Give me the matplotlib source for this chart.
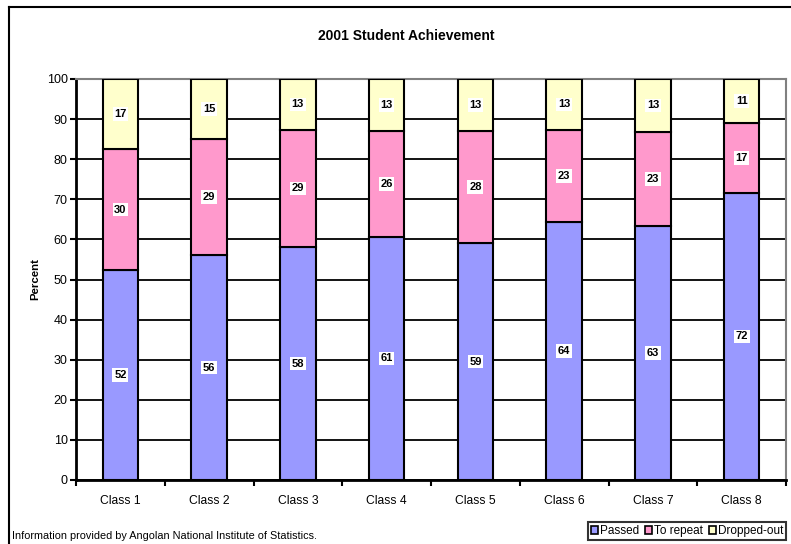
import matplotlib
matplotlib.use("Agg")
import matplotlib.pyplot as plt
from matplotlib.lines import Line2D
import numpy as np

plt.rcParams["font.family"] = ["Liberation Sans", "DejaVu Sans"]

#------------DATA--------------------------
classes = ["Class 1", "Class 2", "Class 3", "Class 4", "Class 5", "Class 6", "Class 7", "Class 8"]
passed = [52.3, 56.1, 58.1, 60.6, 59.1, 64.3, 63.4, 71.6]
to_repeat = [30.3, 28.9, 29.3, 26.4, 28.0, 23.1, 23.4, 17.4]
dropped_out = [17.4, 15.0, 12.6, 13.0, 12.9, 12.6, 13.2, 11.0]
series_names = ["Passed", "To repeat", "Dropped-out"]
colors = ["#9999FF", "#FF99CC", "#FFFFCC"]

#------------PLOT--------------------------
fig = plt.figure(figsize=(7.91, 5.44), dpi=100)
ax = fig.add_axes([76 / 791, 1 - 480 / 544, 710 / 791, 401 / 544])

x = np.arange(len(classes)) + 0.5
bottom = np.zeros(len(classes))
for vals, name, col in zip([passed, to_repeat, dropped_out], series_names, colors):
    vals = np.array(vals)
    ax.bar(x, vals, width=0.4, bottom=bottom, color=col, edgecolor="black",
           linewidth=1.5, label=name, zorder=3)
    for xi, b, v in zip(x, bottom, vals):
        ax.text(xi, b + v / 2, f"{v:.0f}", ha="center", va="center", fontsize=8,
                fontweight="bold", zorder=4,
                bbox=dict(facecolor="white", edgecolor="none", pad=1.2))
    bottom += vals

ax.set_xlim(0, 8)
ax.set_ylim(0, 100)
ax.set_yticks(range(0, 101, 10))
ax.grid(axis="y", color="black", linewidth=1.3, zorder=0)
ax.set_xticks(range(0, 9))
ax.set_xticklabels([])
ax.set_xticks(x, minor=True)
ax.set_xticklabels(classes, minor=True)
ax.tick_params(axis="x", which="major", direction="out", length=4, width=1.5, color="black")
ax.tick_params(axis="x", which="minor", length=0, pad=11, labelsize=8.7)
ax.tick_params(axis="y", direction="out", length=4, width=1.5, labelsize=9, pad=2)
for s in ["left", "bottom"]:
    ax.spines[s].set_linewidth(2)
    ax.spines[s].set_color("black")
for s in ["top", "right"]:
    ax.spines[s].set_linewidth(1.5)
    ax.spines[s].set_color("#808080")

fig.text(406 / 791, 1 - 36 / 544, "2001 Student Achievement", ha="center", va="center",
         fontsize=10, fontweight="bold")
fig.text(35 / 791, 1 - 279 / 544, "Percent", rotation=90, ha="center", va="center",
         fontsize=8.2, fontweight="bold")
fig.text(12 / 791, 1 - 536 / 544, "Information provided by Angolan National Institute of Statistics.",
         ha="left", va="center", fontsize=7.8)

leg = fig.legend(loc="lower right", bbox_to_anchor=(786 / 791, 1 - 540 / 544), ncol=3,
                 fontsize=8.5, frameon=True, fancybox=False, handlelength=0.6, handleheight=0.6,
                 handletextpad=0.15, columnspacing=0.5, borderpad=0.25, borderaxespad=0)
leg.get_frame().set_edgecolor("black")
leg.get_frame().set_linewidth(1.5)
for h in leg.legend_handles:
    h.set_linewidth(1.2)

# outer chart border (top and left visible)
fig.add_artist(Line2D([9 / 791, 9 / 791], [0, 1 - 7 / 544], color="black", linewidth=1.5))
fig.add_artist(Line2D([9 / 791, 1], [1 - 7 / 544, 1 - 7 / 544], color="black", linewidth=1.5))

fig.savefig("out.png", dpi=100)
